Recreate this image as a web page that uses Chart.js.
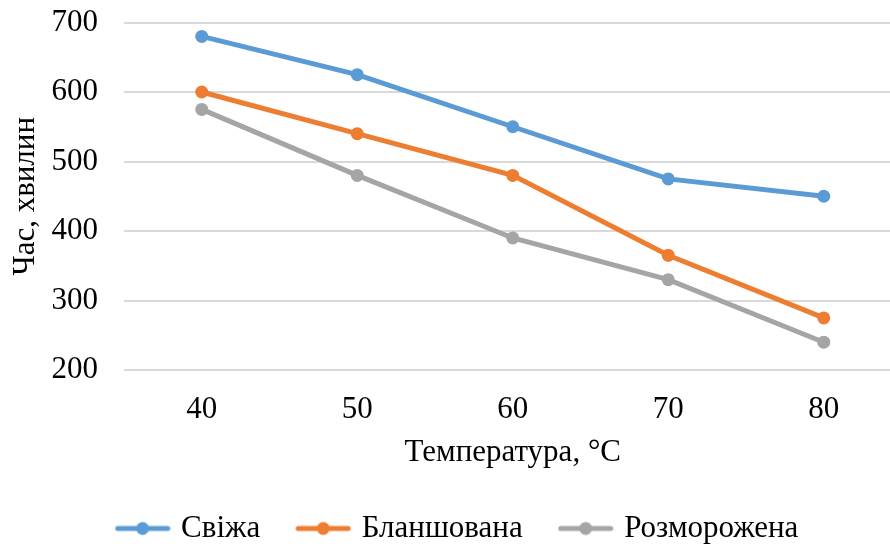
<!DOCTYPE html>
<html>
<head>
<meta charset="utf-8">
<script src="https://cdn.jsdelivr.net/npm/chart.js@4/dist/chart.umd.min.js"></script>
<style>
  html, body { margin: 0; padding: 0; background: #fff; overflow: hidden; }
  #wrap { width: 908px; height: 563px; margin-top: -19px; }
</style>
</head>
<body>
<div id="wrap"><canvas id="chart"></canvas></div>
<script>
const temperatures = ['40', '50', '60', '70', '80'];
const fresh = [680, 625, 550, 475, 450];
const blanched = [600, 540, 480, 365, 275];
const thawed = [575, 480, 390, 330, 240];

const FONT = '"Liberation Serif", "Times New Roman", serif';
const SIZE = 31;

// little line-with-dot swatch for the legend
function swatch(color) {
  const c = document.createElement('canvas');
  c.width = 56; c.height = 16;
  const ctx = c.getContext('2d');
  ctx.strokeStyle = color;
  ctx.lineWidth = 5;
  ctx.lineCap = 'round';
  ctx.beginPath();
  ctx.moveTo(3, 8); ctx.lineTo(53, 8);
  ctx.stroke();
  ctx.fillStyle = color;
  ctx.beginPath();
  ctx.arc(28, 8, 6.5, 0, Math.PI * 2);
  ctx.fill();
  return c;
}

function series(label, data, color) {
  return {
    label, data,
    borderColor: color,
    backgroundColor: color,
    borderWidth: 5,
    pointRadius: 6.5,
    pointHoverRadius: 6.5,
    pointBorderWidth: 0,
    pointStyle: 'circle',
    tension: 0
  };
}

const chart = new Chart(document.getElementById('chart'), {
  type: 'line',
  data: {
    labels: temperatures,
    datasets: [
      series('Свіжа', fresh, '#5B9BD5'),
      series('Бланшована', blanched, '#ED7D31'),
      series('Розморожена', thawed, '#A5A5A5')
    ]
  },
  options: {
    responsive: true,
    maintainAspectRatio: false,
    animation: false,
    layout: { padding: { left: 10, right: 0, top: 0, bottom: -10 } },
    plugins: {
      tooltip: { enabled: false },
      legend: {
        position: 'bottom',
        align: 'center',
        labels: {
          font: { family: FONT, size: SIZE },
          color: '#000',
          usePointStyle: true,
          pointStyleWidth: 46,
          padding: 40,
          generateLabels(ch) {
            return ch.data.datasets.map((ds, i) => ({
              text: ds.label,
              fontColor: '#000',
              pointStyle: swatch(ds.borderColor),
              datasetIndex: i,
              hidden: false,
              lineWidth: 0
            }));
          }
        }
      }
    },
    scales: {
      x: {
        offset: true,
        grid: { display: false, drawTicks: false },
        border: { display: false },
        ticks: { font: { family: FONT, size: SIZE, lineHeight: 1 }, color: '#000', padding: 24 },
        title: {
          display: true,
          text: 'Температура, °C',
          font: { family: FONT, size: SIZE, lineHeight: 1 },
          color: '#000',
          padding: { top: -12, bottom: 5 }
        }
      },
      y: {
        min: 200,
        max: 700,
        afterFit(scale) { scale.width = 114; },
        grid: { color: '#D9D9D9', lineWidth: 2, drawTicks: false },
        border: { display: false },
        ticks: { stepSize: 100, font: { family: FONT, size: SIZE, lineHeight: 1 }, color: '#000', padding: 26 },
        title: {
          display: true,
          text: 'Час, хвилин',
          font: { family: FONT, size: SIZE, lineHeight: 1 },
          color: '#000',
          padding: { top: 0, bottom: 0 }
        }
      }
    }
  }
});
</script>
</body>
</html>
